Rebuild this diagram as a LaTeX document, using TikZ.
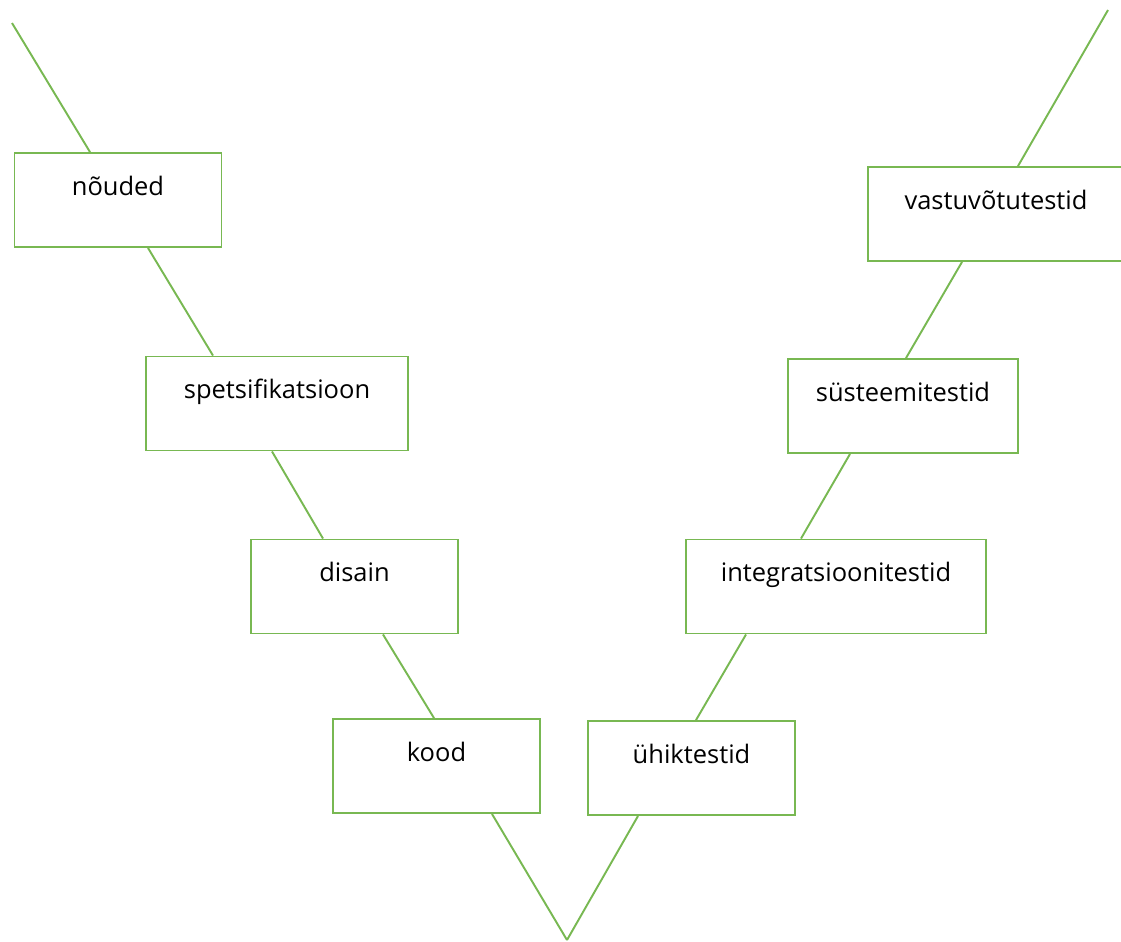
\documentclass[tikz,border=0pt]{standalone}
\usepackage{fontspec}
\setmainfont{Open Sans}
\usepackage{xcolor}
\usetikzlibrary{calc}
\definecolor{vgreen}{RGB}{120,184,82}

\begin{document}
\begin{tikzpicture}[
  x=0.02cm, y=-0.02cm,
  font=\fontsize{14.5}{17}\selectfont,
  stage/.style={draw=vgreen, line width=1.1pt, fill=white, minimum width=4.14cm, minimum height=1.88cm, text height=0.42cm, text depth=0.62cm, inner sep=0pt},
  vline/.style={draw=vgreen, line width=1.1pt}
]
  \useasboundingbox (0,0) rectangle (1121,941);
  \clip (0,0) rectangle (1121,941);

  \node[stage] (noud) at (118,200) {nõuded};
  \node[stage, minimum width=5.24cm] (spec) at (277,403.5) {spetsifikatsioon};
  \node[stage] (disain) at (354.5,586.5) {disain};
  \node[stage] (kood) at (436.5,766) {kood};
  \node[stage] (yhik) at (691.5,768) {ühiktestid};
  \node[stage, minimum width=6cm] (integ) at (836,586.5) {integratsioonitestid};
  \node[stage, minimum width=4.6cm] (syst) at (903,406) {süsteemitestid};
  \node[stage, minimum width=5.12cm] (vastu) at (996,214) {vastuvõtutestid};

  \coordinate (start) at (12,23);
  \coordinate (apex) at (567,940);
  \coordinate (finish) at (1108,10);

  \draw[vline] (start) -- ($(noud.north)+(-28,0)$);
  \draw[vline] ($(noud.south)+(30,0)$) -- ($(spec.north)+(-64,0)$);
  \draw[vline] ($(spec.south)+(-5,0)$) -- ($(disain.north)+(-31.5,0)$);
  \draw[vline] ($(disain.south)+(28.5,0)$) -- ($(kood.north)+(-2.5,0)$);
  \draw[vline] ($(kood.south)+(55.5,0)$) -- (apex);
  \draw[vline] ($(yhik.south)+(-53.5,0)$) -- (apex);
  \draw[vline] ($(yhik.north)+(4.5,0)$) -- ($(integ.south)+(-90,0)$);
  \draw[vline] ($(integ.north)+(-35,0)$) -- ($(syst.south)+(-53,0)$);
  \draw[vline] ($(syst.north)+(3,0)$) -- ($(vastu.south)+(-34,0)$);
  \draw[vline] ($(vastu.north)+(22,0)$) -- (finish);
\end{tikzpicture}
\end{document}
